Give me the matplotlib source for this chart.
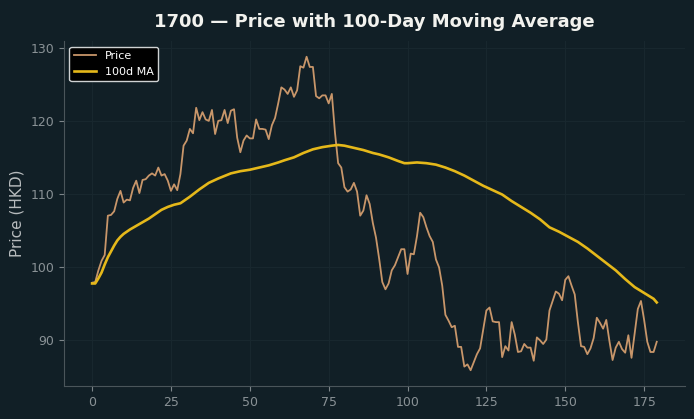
import matplotlib
matplotlib.use("Agg")
import matplotlib.pyplot as plt
import numpy as np

# daily closing prices (days 0..179)
price = [
    97.8, 97.9, 99.5, 100.8, 101.6, 107.0, 107.1, 107.6, 109.3, 110.4,
    108.8, 109.2, 109.1, 110.8, 111.8, 110.1, 111.9, 112.0, 112.5, 112.8,
    112.5, 113.6, 112.5, 112.7, 111.8, 110.4, 111.3, 110.5, 112.7, 116.6,
    117.3, 118.9, 118.3, 121.8, 120.1, 121.2, 120.2, 120.0, 121.5, 118.2,
    120.0, 120.1, 121.5, 119.7, 121.4, 121.6, 117.7, 115.7, 117.3, 118.0,
    117.6, 117.6, 120.2, 118.9, 118.9, 118.8, 117.5, 119.4, 120.4, 122.4,
    124.6, 124.3, 123.7, 124.6, 123.3, 124.2, 127.5, 127.3, 128.8, 127.4,
    127.4, 123.4, 123.1, 123.5, 123.5, 122.4, 123.7, 118.4, 114.2, 113.6,
    110.9, 110.3, 110.6, 111.5, 110.3, 107.0, 107.7, 109.8, 108.6, 106.0,
    104.0, 101.1, 97.9, 96.9, 97.7, 99.5, 100.2, 101.3, 102.4, 102.4,
    99.0, 101.8, 101.7, 104.2, 107.4, 106.8, 105.4, 104.2, 103.4, 101.0,
    99.9, 97.4, 93.4, 92.6, 91.7, 91.9, 89.0, 89.0, 86.3, 86.6,
    85.8, 86.9, 88.0, 88.8, 91.4, 94.0, 94.4, 92.5, 92.4, 92.4,
    87.6, 89.1, 88.5, 92.4, 90.7, 88.3, 88.4, 89.4, 88.9, 88.9,
    87.1, 90.3, 89.9, 89.4, 90.0, 94.0, 95.3, 96.6, 96.3, 95.4,
    98.2, 98.7, 97.4, 96.2, 92.4, 89.1, 89.0, 88.0, 88.8, 90.2,
    93.0, 92.3, 91.5, 92.7, 89.8, 87.2, 88.9, 89.7, 88.7, 88.2,
    90.6, 87.5, 90.9, 94.2, 95.3, 92.7, 89.7, 88.3, 88.3, 89.7,
]
days = list(range(len(price)))

ma_days = [0, 1, 2, 3, 4, 5, 6, 7, 8, 9, 10, 12, 14, 16, 18, 20, 22, 24, 26, 28,
           31, 34, 37, 40, 44, 47, 50, 53, 56, 59, 61, 64, 67, 70, 73, 76, 78,
           80, 83, 86, 89, 91, 94, 97, 99, 100, 103, 106, 109, 112, 115, 118,
           121, 124, 127, 130, 133, 136, 139, 142, 145, 148, 151, 154, 157,
           160, 163, 166, 169, 172, 175, 178, 179]
ma_vals = [97.7, 97.7, 98.4, 99.2, 100.3, 101.3, 102.1, 102.9, 103.6, 104.1,
           104.5, 105.1, 105.6, 106.1, 106.6, 107.2, 107.8, 108.2, 108.5, 108.7,
           109.6, 110.6, 111.5, 112.1, 112.8, 113.1, 113.3, 113.6, 113.9, 114.3,
           114.6, 115.0, 115.6, 116.1, 116.4, 116.6, 116.7,
           116.6, 116.3, 116.0, 115.6, 115.4, 115.0, 114.5, 114.2, 114.2, 114.3,
           114.2, 114.0, 113.6, 113.1, 112.5,
           111.8, 111.1, 110.5, 109.9, 109.0, 108.2, 107.4, 106.5, 105.4, 104.8,
           104.1, 103.4, 102.5, 101.5, 100.5, 99.5, 98.3, 97.2, 96.4, 95.6, 95.1]

bg = "#111f26"
fig = plt.figure(figsize=(6.94, 4.19), dpi=100, facecolor=bg)
ax = fig.add_axes([0.092, 0.079, 0.895, 0.823])
ax.set_facecolor(bg)

ax.plot(days, price, color="#c8966a", linewidth=1.3, label="Price")
ax.plot(ma_days, ma_vals, color="#e5b81a", linewidth=1.9, label="100d MA")

ax.set_title("1700 \u2014 Price with 100-Day Moving Average", color="#f2f2ee",
             fontsize=13, fontweight="bold", pad=10)
ax.set_ylabel("Price (HKD)", color="#b8bcbe", fontsize=11)
ax.set_yticks([90, 100, 110, 120, 130])

ax.grid(True, color="#18272e", linewidth=0.8)
ax.set_axisbelow(True)
for s in ["top", "right"]:
    ax.spines[s].set_visible(False)
for s in ["left", "bottom"]:
    ax.spines[s].set_color("#4a555a")
ax.tick_params(colors="#7d8589", labelsize=9, length=3.5)
ax.tick_params(axis="both", labelcolor="#8a9296")

leg = ax.legend(loc="upper left", fontsize=8, facecolor="black",
                edgecolor="#cfd2d3", framealpha=1.0, labelcolor="white")

fig.savefig("out.png", dpi=100, facecolor=bg)
